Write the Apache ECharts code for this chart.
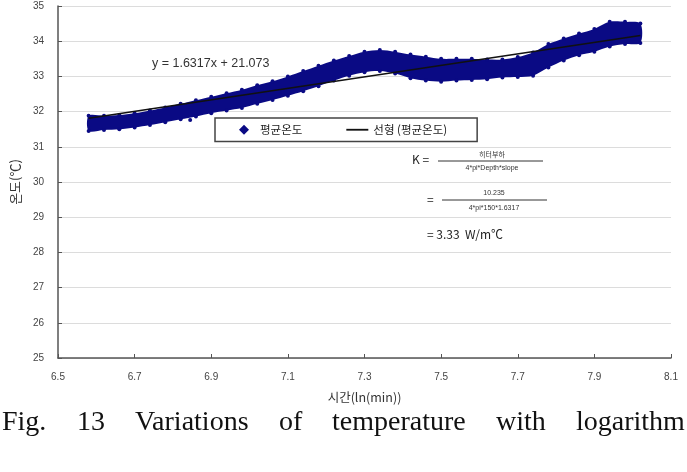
<!DOCTYPE html>
<html>
<head>
<meta charset="utf-8">
<script src="https://cdn.jsdelivr.net/npm/echarts@6/dist/echarts.min.js"></script>
<style>
  html, body { margin: 0; padding: 0; background: #fff; }
  #chart { width: 687px; height: 472px; }
</style>
</head>
<body>
<div id="chart"></div>
<script>
// ln(min) sample positions of the measured band
const lnTime = [6.58, 6.62, 6.66, 6.70, 6.74, 6.78, 6.82, 6.86, 6.90, 6.94, 6.98, 7.02, 7.06, 7.10, 7.14, 7.18, 7.22, 7.26, 7.30,
  7.34, 7.38, 7.42, 7.46, 7.50, 7.54, 7.58, 7.62, 7.66, 7.70, 7.74, 7.78, 7.82, 7.86, 7.90, 7.94, 7.98, 8.02];
// lower / upper edge of the 평균온도 point cloud
const tempLow = [31.45, 31.48, 31.50, 31.55, 31.62, 31.70, 31.78, 31.86, 31.95, 32.03, 32.10, 32.22, 32.33, 32.45, 32.58, 32.72, 32.88, 33.02, 33.12,
  33.15, 33.08, 32.95, 32.88, 32.85, 32.88, 32.90, 32.92, 32.97, 32.98, 33.02, 33.25, 33.45, 33.60, 33.70, 33.85, 33.92, 33.95];
const tempHigh = [31.88, 31.88, 31.90, 31.95, 32.03, 32.12, 32.22, 32.32, 32.42, 32.52, 32.62, 32.75, 32.86, 33.00, 33.15, 33.30, 33.45, 33.58, 33.70,
  33.75, 33.70, 33.62, 33.56, 33.50, 33.50, 33.50, 33.48, 33.48, 33.55, 33.68, 33.92, 34.08, 34.22, 34.35, 34.55, 34.55, 34.50];
const outliers = [[6.845, 31.76]];
// 선형 추세선 끝점 (y = 1.6317x + 21.073)
const trendLine = [[6.58, 31.81], [8.02, 34.16]];
const xTicks = [6.5, 8.1, 0.2];
const yTicks = [25, 35, 1];
const caption = ['Fig.', '13', 'Variations', 'of', 'temperature', 'with', 'logarithm'];

const navy = '#0a0a84';
const chart = echarts.init(document.getElementById('chart'));

const bandPts = lnTime.map((x, i) => [x, tempLow[i], tempHigh[i]]);
const edgePts = lnTime.map((x, i) => [x, tempLow[i]]).concat(lnTime.map((x, i) => [x, tempHigh[i]]));

const kr = 'Noto Sans CJK KR, sans-serif';
const sans = 'Liberation Sans, Arial, sans-serif';
const serif = '28px Liberation Serif, Times New Roman, serif';

// justify the caption line across the full width
const ctx = document.createElement('canvas').getContext('2d');
ctx.font = serif;
const widths = caption.map(w => ctx.measureText(w).width);
const gap = (685 - 2 - widths.reduce((a, b) => a + b, 0)) / (caption.length - 1);
let cx = 2;
const captionGraphics = caption.map((w, i) => {
  const g = { type: 'text', left: Math.round(cx), top: 409, style: { text: w, font: serif, fill: '#111' } };
  cx += widths[i] + gap;
  return g;
});

chart.setOption({
  animation: false,
  backgroundColor: '#fff',
  grid: { left: 58, right: 16, top: 6, bottom: 114 },
  xAxis: {
    type: 'value', min: xTicks[0], max: xTicks[1], interval: xTicks[2],
    name: '시간(ln(min))', nameLocation: 'middle', nameGap: 33,
    nameTextStyle: { fontFamily: kr, fontSize: 12.5, color: '#333' },
    axisLine: { lineStyle: { color: '#555', width: 1.5 } },
    axisTick: { inside: true, length: 4, lineStyle: { color: '#555' } },
    axisLabel: { margin: 14, color: '#444', fontSize: 10, fontFamily: sans, formatter: v => v.toFixed(1) },
    splitLine: { show: false }
  },
  yAxis: {
    type: 'value', min: yTicks[0], max: yTicks[1], interval: yTicks[2],
    name: '온도(℃)', nameLocation: 'middle', nameGap: 31, nameRotate: 90,
    nameTextStyle: { fontFamily: kr, fontSize: 13, color: '#333' },
    axisLine: { show: true, lineStyle: { color: '#555', width: 1.5 } },
    axisTick: { show: true, inside: true, length: 4, lineStyle: { color: '#555' } },
    axisLabel: { margin: 14, color: '#444', fontSize: 10, fontFamily: sans },
    splitLine: { lineStyle: { color: '#dcdcdc', width: 1.2 } }
  },
  legend: {
    left: 215, top: 118, width: 262,
    backgroundColor: '#fff', borderColor: '#444', borderWidth: 1.5,
    padding: [6, 30, 6, 24], itemGap: 44, itemWidth: 22, itemHeight: 10,
    textStyle: { fontFamily: kr, fontSize: 11.5, color: '#222' },
    data: [
      { name: '평균온도', icon: 'path://M5,0 L10,5 L5,10 L0,5 Z', itemStyle: { color: navy } },
      { name: '선형 (평균온도)', icon: 'path://M0,0 L24,0 L24,2 L0,2 Z', itemStyle: { color: '#111' } }
    ]
  },
  series: [
    {
      name: '평균온도', type: 'custom', data: [0],
      renderItem: (params, api) => {
        const top = bandPts.map(p => api.coord([p[0], p[2]]));
        const bot = bandPts.map(p => api.coord([p[0], p[1]])).reverse();
        return { type: 'polygon', shape: { points: top.concat(bot), smooth: 0.3 }, style: { fill: navy } };
      },
      z: 2
    },
    {
      name: '평균온도', type: 'scatter', data: edgePts.concat(outliers),
      symbol: 'circle', symbolSize: 4, itemStyle: { color: navy, opacity: 1 }, z: 3
    },
    {
      name: '선형 (평균온도)', type: 'line', data: trendLine, symbol: 'none',
      lineStyle: { color: '#111', width: 1.5 }, itemStyle: { color: '#111' }, z: 4
    }
  ],
  graphic: [
    { type: 'text', left: 152, top: 57, style: { text: 'y = 1.6317x + 21.073', font: '12.5px ' + sans, fill: '#333' } },
    // thermal conductivity formula
    { type: 'text', left: 412, top: 153, style: { text: 'K =', font: '12px ' + kr, fill: '#222' } },
    { type: 'line', shape: { x1: 438, y1: 161, x2: 543, y2: 161 }, style: { stroke: '#333', lineWidth: 1 } },
    { type: 'text', x: 492, y: 154, style: { text: '히터부하', font: '7px ' + kr, fill: '#333', align: 'center', verticalAlign: 'middle' } },
    { type: 'text', x: 492, y: 168, style: { text: '4*pi*Depth*slope', font: '7px ' + sans, fill: '#333', align: 'center', verticalAlign: 'middle' } },
    { type: 'text', left: 427, top: 193, style: { text: '=', font: '12px ' + kr, fill: '#222' } },
    { type: 'line', shape: { x1: 442, y1: 200, x2: 547, y2: 200 }, style: { stroke: '#333', lineWidth: 1 } },
    { type: 'text', x: 494, y: 193, style: { text: '10.235', font: '7px ' + sans, fill: '#333', align: 'center', verticalAlign: 'middle' } },
    { type: 'text', x: 494, y: 208, style: { text: '4*pi*150*1.6317', font: '7px ' + sans, fill: '#333', align: 'center', verticalAlign: 'middle' } },
    { type: 'text', left: 427, top: 228, style: { text: '= 3.33  W/m℃', font: '12px ' + kr, fill: '#222' } }
  ].concat(captionGraphics)
});
</script>
</body>
</html>
